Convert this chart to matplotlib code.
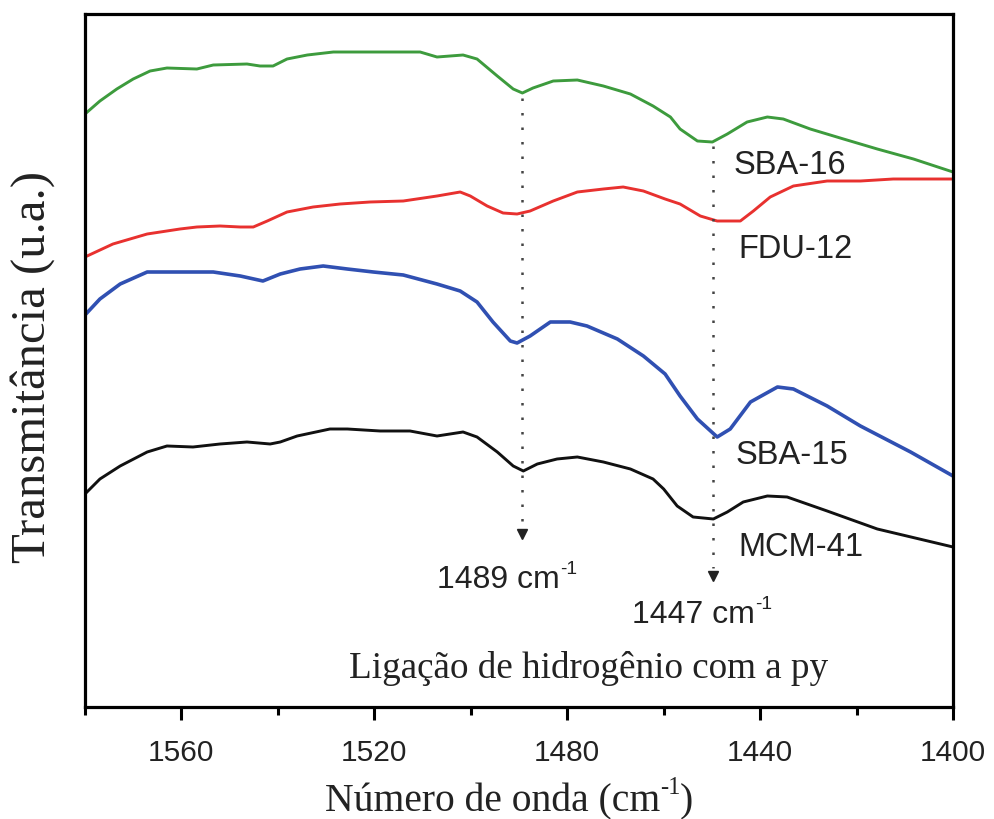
import matplotlib
matplotlib.use("Agg")
import matplotlib.pyplot as plt
from matplotlib.ticker import MultipleLocator
from matplotlib.transforms import offset_copy

# ---- data (wavenumber cm^-1, transmittance a.u.) ----
sba16_x = [1580, 1576.9, 1573.4, 1570.0, 1566.5, 1563.0, 1556.8, 1553.4, 1546.4, 1543.7,
           1541.0, 1538.1, 1533.9, 1528.5, 1525.6, 1518.8, 1510.5, 1507.0, 1501.6, 1498.7,
           1494.5, 1491.2, 1489.3, 1487.1, 1482.9, 1477.9, 1472.5, 1466.9, 1462.2, 1458.6,
           1456.6, 1453.0, 1449.9, 1446.8, 1442.7, 1438.5, 1435.2, 1429.6, 1422.7, 1415.7,
           1408.2, 1400]
sba16_y = [593, 606, 618, 628, 636, 639, 638, 642, 643, 641,
           641, 648, 652, 655, 655, 655, 655, 650, 652, 648,
           631, 618, 614, 619, 626, 627, 621, 613, 601, 590,
           578, 566, 565, 573, 585, 590, 588, 578, 568, 558,
           548, 535]

fdu12_x = [1580, 1574.2, 1567.1, 1560.3, 1556.8, 1552.0, 1547.8, 1545.1, 1542.2, 1538.1,
           1532.7, 1527.1, 1520.9, 1514.0, 1507.0, 1502.2, 1500.1, 1496.6, 1493.3, 1490.4,
           1487.7, 1482.9, 1477.9, 1472.5, 1468.4, 1464.2, 1459.7, 1456.6, 1452.4, 1448.9,
           1444.1, 1441.4, 1437.9, 1433.1, 1426.1, 1419.2, 1412.4, 1400]
fdu12_y = [450, 463, 473, 478, 480, 481, 480, 480, 486, 495,
           500, 503, 505, 506, 511, 515, 511, 501, 494, 493,
           496, 506, 515, 518, 520, 516, 508, 503, 491, 486,
           486, 496, 510, 521, 526, 526, 528, 528]

sba15_x = [1580, 1576.9, 1572.7, 1567.1, 1560.3, 1553.4, 1547.8, 1543.1, 1539.5, 1535.4,
           1530.6, 1525.6, 1520.2, 1514.0, 1507.0, 1502.2, 1498.7, 1495.4, 1491.8, 1490.4,
           1487.7, 1483.5, 1479.4, 1475.9, 1469.6, 1464.2, 1459.7, 1456.6, 1453.0, 1448.9,
           1446.2, 1442.0, 1436.4, 1433.1, 1426.1, 1419.2, 1408.8, 1400]
sba15_y = [392, 408, 423, 435, 435, 435, 431, 426, 433, 438,
           441, 438, 435, 432, 423, 416, 405, 385, 366, 364,
           371, 385, 385, 381, 368, 351, 333, 311, 288, 270,
           278, 305, 320, 318, 301, 281, 255, 231]

mcm41_x = [1580, 1576.9, 1572.7, 1567.1, 1563.0, 1557.6, 1552.0, 1546.4, 1541.6, 1539.5,
           1536.0, 1529.2, 1525.6, 1518.8, 1512.6, 1507.0, 1501.6, 1498.7, 1494.5, 1491.2,
           1489.1, 1486.2, 1482.1, 1477.9, 1472.5, 1466.9, 1462.2, 1460.0, 1457.2, 1453.9,
           1449.7, 1446.8, 1443.5, 1438.5, 1434.4, 1426.1, 1415.7, 1400]
mcm41_y = [213, 228, 241, 255, 261, 260, 263, 265, 263, 265,
           271, 278, 278, 276, 276, 271, 275, 270, 255, 241,
           236, 243, 248, 250, 245, 238, 228, 218, 201, 190,
           188, 195, 205, 211, 210, 196, 178, 160]

series_names = ["SBA-16", "FDU-12", "SBA-15", "MCM-41"]
band_positions = [1489.3, 1449.7]
band_texts = ["1489 cm", "1447 cm"]
xticks = [1560, 1520, 1480, 1440, 1400]

fig = plt.figure(figsize=(9.95, 8.2), dpi=100)
ax = fig.add_axes([0.0854, 0.1366, 0.8724, 0.8451])

line_kw = dict(solid_joinstyle="round", solid_capstyle="round")
ax.plot(sba16_x, sba16_y, color="#3d9b3d", lw=2.1, **line_kw)
ax.plot(fdu12_x, fdu12_y, color="#e8312f", lw=2.1, **line_kw)
ax.plot(sba15_x, sba15_y, color="#3050b2", lw=2.6, **line_kw)
ax.plot(mcm41_x, mcm41_y, color="#111111", lw=2.1, **line_kw)

# dotted guide lines with arrow heads
dot_style = (0, (1, 4.8))
ax.plot([band_positions[0]] * 2, [609, 181], ls=dot_style, color="#444444", lw=1.8)
ax.plot([band_positions[0]], [173], marker="v", color="#222222", ms=7)
ax.plot([band_positions[1]] * 2, [561, 139], ls=dot_style, color="#444444", lw=1.8)
ax.plot([band_positions[1]], [131], marker="v", color="#222222", ms=7)

sans = ["Liberation Sans", "DejaVu Sans"]
serif = ["Liberation Serif", "DejaVu Serif"]
TXT = "#222222"

renderer = fig.canvas.get_renderer()


def rich(x, y, parts, size, family, transform, ha="left", sup_scale=0.6, raise_frac=0.45):
    """Draw text made of (string, is_superscript) parts on a common baseline."""
    items = []
    total = 0.0
    for s, sup in parts:
        fs = size * sup_scale if sup else size
        t = fig.text(0, 0, s, fontsize=fs, family=family)
        w = t.get_window_extent(renderer).width
        t.remove()
        items.append((s, sup, fs, w))
        total += w
    x0 = 0.0 if ha == "left" else -total / 2.0
    for s, sup, fs, w in items:
        dy = size * raise_frac * fig.dpi / 72.0 if sup else 0.0
        tr = offset_copy(transform, fig=fig, x=x0, y=dy, units="dots")
        fig.text(x, y, s, transform=tr, fontsize=fs, family=family,
                 ha="left", va="baseline", color=TXT)
        x0 += w


# band annotations
rich(1507.0, 120, [(band_texts[0], False), ("-1", True)], 23, sans, ax.transData)
rich(1466.5, 84.5, [(band_texts[1], False), ("-1", True)], 23, sans, ax.transData)

# series labels
label_pos = [(1445.6, 534.5), (1444.5, 449.5), (1445.1, 243.5), (1444.5, 151.5)]
for name, (lx, ly) in zip(series_names, label_pos):
    ax.text(lx, ly, name, fontsize=23.5, family=sans, ha="left", va="baseline", color=TXT)

ax.text(1475.6, 39, "Ligação de hidrogênio com a py", fontsize=26.7, family=serif,
        ha="center", va="center", color=TXT)

ax.set_xlim(1580, 1400)
ax.set_ylim(0, 693)
ax.set_xticks(xticks)
ax.xaxis.set_minor_locator(MultipleLocator(20))
ax.set_yticks([])
ax.tick_params(axis="x", which="major", direction="out", length=9, width=2.2,
               labelsize=21.5, pad=13)
ax.tick_params(axis="x", which="minor", direction="out", length=6, width=2.2)
for lab in ax.get_xticklabels():
    lab.set_family(sans)
    lab.set_color(TXT)
for sp in ax.spines.values():
    sp.set_linewidth(2.3)

# axis titles
rich(509 / 995, 9 / 820, [("Número de onda (cm", False), ("-1", True), (")", False)],
     28.5, serif, fig.transFigure, ha="center", sup_scale=0.62, raise_frac=0.42)
fig.text(33 / 995, 1 - 367 / 820, "Transmitância (u.a.)", fontsize=35, family=serif,
         rotation=90, ha="center", va="center", color=TXT)

fig.savefig("out.png", dpi=100)
